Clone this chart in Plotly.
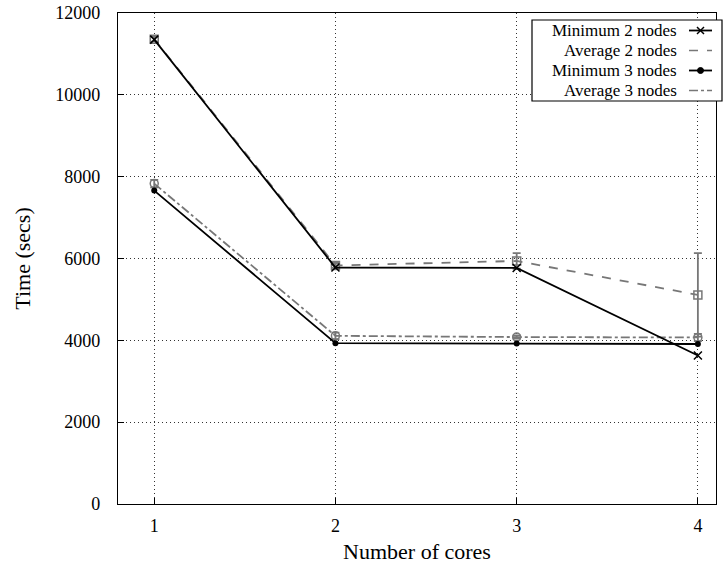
import plotly.graph_objects as go

cores = [1, 2, 3, 4]
min2 = [11350, 5780, 5770, 3630]
avg2 = [11360, 5830, 5940, 5110]
avg2_err = [60, 60, 190, 1020]
min3 = [7660, 3930, 3920, 3910]
avg3 = [7830, 4110, 4080, 4070]
avg3_err = [90, 80, 40, 90]

names = ["Minimum 2 nodes", "Average 2 nodes", "Minimum 3 nodes", "Average 3 nodes"]
y_ticks = [0, 2000, 4000, 6000, 8000, 10000, 12000]

FONT = "Times New Roman, Liberation Serif, serif"
GRAY = "#777777"

fig = go.Figure()
fig.add_trace(go.Scatter(x=cores, y=avg2, mode="lines+markers", name=names[1],
                         line=dict(color=GRAY, width=1.8, dash="dash"),
                         marker=dict(symbol="square-open", size=8, color=GRAY, line=dict(width=1.5)),
                         error_y=dict(type="data", array=avg2_err, color=GRAY, thickness=1.8, width=4)))
fig.add_trace(go.Scatter(x=cores, y=avg3, mode="lines+markers", name=names[3],
                         line=dict(color=GRAY, width=1.8, dash="dashdot"),
                         marker=dict(symbol="circle-open", size=8, color=GRAY, line=dict(width=1.5)),
                         error_y=dict(type="data", array=avg3_err, color=GRAY, thickness=1.8, width=4)))
fig.add_trace(go.Scatter(x=cores, y=min2, mode="lines+markers", name=names[0],
                         line=dict(color="black", width=1.8),
                         marker=dict(symbol="x-thin", size=8, color="black", line=dict(width=1.5, color="black"))))
fig.add_trace(go.Scatter(x=cores, y=min3, mode="lines+markers", name=names[2],
                         line=dict(color="black", width=1.8),
                         marker=dict(symbol="circle", size=6, color="black")))

# custom legend (text right-aligned, sample on right)
L, R, T, B = 118, 716, 13, 504
W, H = R - L, B - T
def px(x):
    return (x - L) / W
def py(y):
    return (B - y) / H

fig.add_shape(type="rect", xref="paper", yref="paper",
              x0=px(532), x1=px(722), y0=py(101), y1=py(20),
              line=dict(color="black", width=1.2), fillcolor="white", layer="above")
rows = [30.5, 50.5, 70.5, 90.5]
styles = [
    dict(color="black", width=1.8, dash="solid"),
    dict(color=GRAY, width=1.5, dash="dash"),
    dict(color="black", width=1.8, dash="solid"),
    dict(color=GRAY, width=1.5, dash="dashdot"),
]
for i, (nm, yy, st) in enumerate(zip(names, rows, styles)):
    fig.add_annotation(x=px(678), y=py(yy), xref="paper", yref="paper", text=nm,
                       showarrow=False, xanchor="right", yanchor="middle",
                       borderpad=0,
                       font=dict(family=FONT, size=17, color="black"))
    fig.add_shape(type="line", xref="paper", yref="paper",
                  x0=px(689), x1=px(712), y0=py(yy), y1=py(yy), line=st, layer="above")
# legend marker glyphs as shapes
cx = 700.5
fig.add_shape(type="line", xref="paper", yref="paper",
              x0=px(cx - 3.5), x1=px(cx + 3.5), y0=py(rows[0] - 3.5), y1=py(rows[0] + 3.5),
              line=dict(color="black", width=1.5), layer="above")
fig.add_shape(type="line", xref="paper", yref="paper",
              x0=px(cx - 3.5), x1=px(cx + 3.5), y0=py(rows[0] + 3.5), y1=py(rows[0] - 3.5),
              line=dict(color="black", width=1.5), layer="above")
fig.add_shape(type="circle", xref="paper", yref="paper",
              x0=px(cx - 3), x1=px(cx + 3), y0=py(rows[2] + 3), y1=py(rows[2] - 3),
              line=dict(color="black", width=1), fillcolor="black", layer="above")

grid_common = dict(showgrid=True, gridcolor="#333", griddash="1px,3px", gridwidth=1,
                   showline=True, linecolor="black", linewidth=1.2, mirror=True,
                   ticks="inside", ticklen=6, tickcolor="black", zeroline=False,
                   automargin=False,
                   tickfont=dict(family=FONT, size=18, color="black"))

fig.update_layout(
    width=724, height=568,
    margin=dict(l=L, r=724 - R, t=T, b=568 - B),
    paper_bgcolor="white", plot_bgcolor="white",
    showlegend=False,
    font=dict(family=FONT, size=18, color="black"),
    xaxis=dict(range=[0.8, 4.1], tickvals=cores, ticktext=[str(c) for c in cores],
               ticklabelstandoff=5,
               title=dict(text="Number of cores", font=dict(family=FONT, size=22), standoff=8),
               **grid_common),
    yaxis=dict(range=[0, 12000], tickvals=y_ticks, ticktext=[str(v) for v in y_ticks],
               ticklabelstandoff=13,
               title=dict(text="Time (secs)", font=dict(family=FONT, size=22), standoff=18),
               **grid_common),
)

fig.write_html("out.html")
